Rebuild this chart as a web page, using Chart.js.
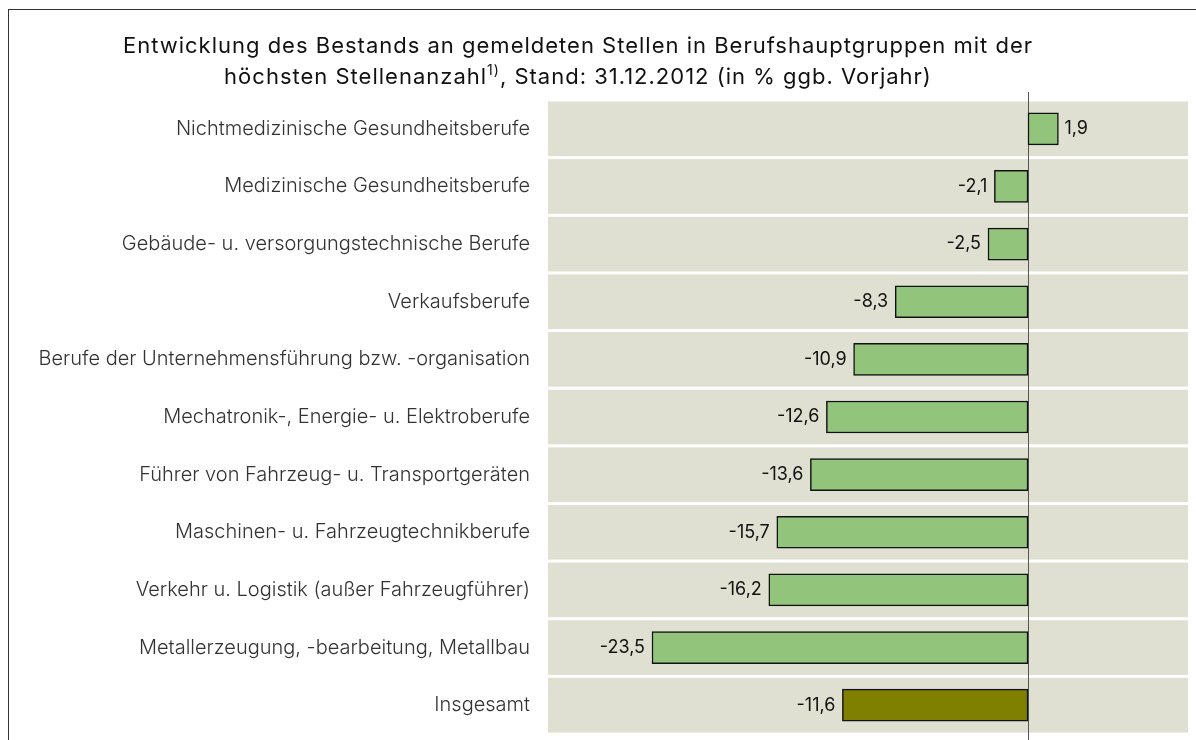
<!DOCTYPE html>
<html lang="de">
<head>
    <meta charset="UTF-8">
    <title>Bestand gemeldeter Stellen 2012</title>
    <style>
        body {
            margin: 0;
            background-color: #ffffff;
            overflow: hidden;
        }
        #frame {
            position: absolute;
            left: 8px;
            top: 9px;
            width: 1188px;
            height: 731px;
            border-top: 1px solid #333;
            border-left: 1px solid #333;
        }
        #chartContainer {
            position: absolute;
            left: 0;
            top: 0;
            width: 1187px;
            height: 730px;
        }
    </style>
</head>
<body>
    <div id="frame">
        <div id="chartContainer">
            <canvas id="stellenChart"></canvas>
        </div>
    </div>

    <script src="https://cdn.jsdelivr.net/npm/chart.js@4.4.3/dist/chart.umd.min.js"></script>
    <script>
        // Berufshauptgruppen (von oben nach unten)
        const categories = [
            'Nichtmedizinische Gesundheitsberufe',
            'Medizinische Gesundheitsberufe',
            'Gebäude- u. versorgungstechnische Berufe',
            'Verkaufsberufe',
            'Berufe der Unternehmensführung bzw. -organisation',
            'Mechatronik-, Energie- u. Elektroberufe',
            'Führer von Fahrzeug- u. Transportgeräten',
            'Maschinen- u. Fahrzeugtechnikberufe',
            'Verkehr u. Logistik (außer Fahrzeugführer)',
            'Metallerzeugung, -bearbeitung, Metallbau',
            'Insgesamt'
        ];
        // Veränderung in % ggb. Vorjahr
        const changes = [1.9, -2.1, -2.5, -8.3, -10.9, -12.6, -13.6, -15.7, -16.2, -23.5, -11.6];

        const titleLine1 = 'Entwicklung des Bestands an gemeldeten Stellen in Berufshauptgruppen mit der';
        const titleLine2 = ['höchsten Stellenanzahl', '1)', ', Stand: 31.12.2012 (in % ggb. Vorjahr)'];

        const barColors = changes.map((v, i) => i === changes.length - 1 ? '#808000' : '#93c47b');
        const fontFamily = 'Inter, "Open Sans", sans-serif';

        // Hintergrundstreifen je Kategorie + Nulllinie
        const bandsPlugin = {
            id: 'bands',
            beforeDatasetsDraw(chart) {
                const { ctx, chartArea, scales } = chart;
                const y = scales.y, x = scales.x;
                const step = y.getPixelForValue(1) - y.getPixelForValue(0);
                ctx.save();
                ctx.fillStyle = '#dfe0d2';
                categories.forEach((c, i) => {
                    const cy = y.getPixelForValue(i);
                    ctx.fillRect(chartArea.left, cy - step / 2 + 1.5, chartArea.right - chartArea.left, step - 3);
                });
                const x0 = Math.round(x.getPixelForValue(0)) + 0.5;
                ctx.strokeStyle = '#555';
                ctx.lineWidth = 1;
                ctx.beginPath();
                ctx.moveTo(x0, chartArea.top - 8);
                ctx.lineTo(x0, chart.height);
                ctx.stroke();
                ctx.restore();
            }
        };

        // Werte an den Balken
        const valueLabels = {
            id: 'valueLabels',
            afterDatasetsDraw(chart) {
                const { ctx } = chart;
                const meta = chart.getDatasetMeta(0);
                ctx.save();
                ctx.font = '18px ' + fontFamily;
                ctx.fillStyle = '#111';
                ctx.textBaseline = 'middle';
                meta.data.forEach((bar, i) => {
                    const v = changes[i];
                    const txt = v.toFixed(1).replace('.', ',');
                    if (v < 0) {
                        ctx.textAlign = 'right';
                        ctx.fillText(txt, bar.x - 7, bar.y);
                    } else {
                        ctx.textAlign = 'left';
                        ctx.fillText(txt, bar.x + 6, bar.y);
                    }
                });
                ctx.restore();
            }
        };

        // Titel mit Hochzahl
        const titlePlugin = {
            id: 'customTitle',
            afterDraw(chart) {
                const { ctx } = chart;
                const cx = 569;
                const big = '22px ' + fontFamily, small = '14px ' + fontFamily;
                ctx.save();
                ctx.fillStyle = '#111';
                ctx.letterSpacing = '1px';
                ctx.textBaseline = 'alphabetic';
                ctx.font = big;
                ctx.textAlign = 'center';
                ctx.fillText(titleLine1, cx, 43);
                const w1 = ctx.measureText(titleLine2[0]).width;
                const w3 = ctx.measureText(titleLine2[2]).width;
                ctx.font = small;
                const w2 = ctx.measureText(titleLine2[1]).width;
                let sx = cx - (w1 + w2 + w3) / 2;
                ctx.textAlign = 'left';
                ctx.font = big;
                ctx.fillText(titleLine2[0], sx, 74);
                sx += w1;
                ctx.font = small;
                ctx.fillText(titleLine2[1], sx, 65);
                sx += w2;
                ctx.font = big;
                ctx.fillText(titleLine2[2], sx, 74);
                ctx.restore();
            }
        };

        const config = {
            type: 'bar',
            data: {
                labels: categories,
                datasets: [{
                    data: changes,
                    backgroundColor: barColors,
                    borderColor: '#111',
                    borderWidth: 1.5,
                    borderSkipped: false,
                    barThickness: 32
                }]
            },
            options: {
                indexAxis: 'y',
                responsive: true,
                maintainAspectRatio: false,
                animation: false,
                layout: {
                    padding: { top: 90, right: 8, bottom: 6, left: 0 }
                },
                scales: {
                    x: {
                        display: false,
                        min: -30,
                        max: 10
                    },
                    y: {
                        afterFit(scale) {
                            scale.width = 539;
                            scale.paddingTop = 0;
                            scale.paddingBottom = 0;
                        },
                        grid: { display: false, drawTicks: false },
                        border: { display: false },
                        ticks: {
                            padding: 18,
                            color: '#333',
                            font: { family: fontFamily, size: 20, weight: 300 }
                        }
                    }
                },
                plugins: {
                    legend: { display: false },
                    tooltip: { enabled: false }
                }
            },
            plugins: [bandsPlugin, valueLabels, titlePlugin]
        };

        const ctx = document.getElementById('stellenChart').getContext('2d');
        new Chart(ctx, config);
    </script>
</body>
</html>
